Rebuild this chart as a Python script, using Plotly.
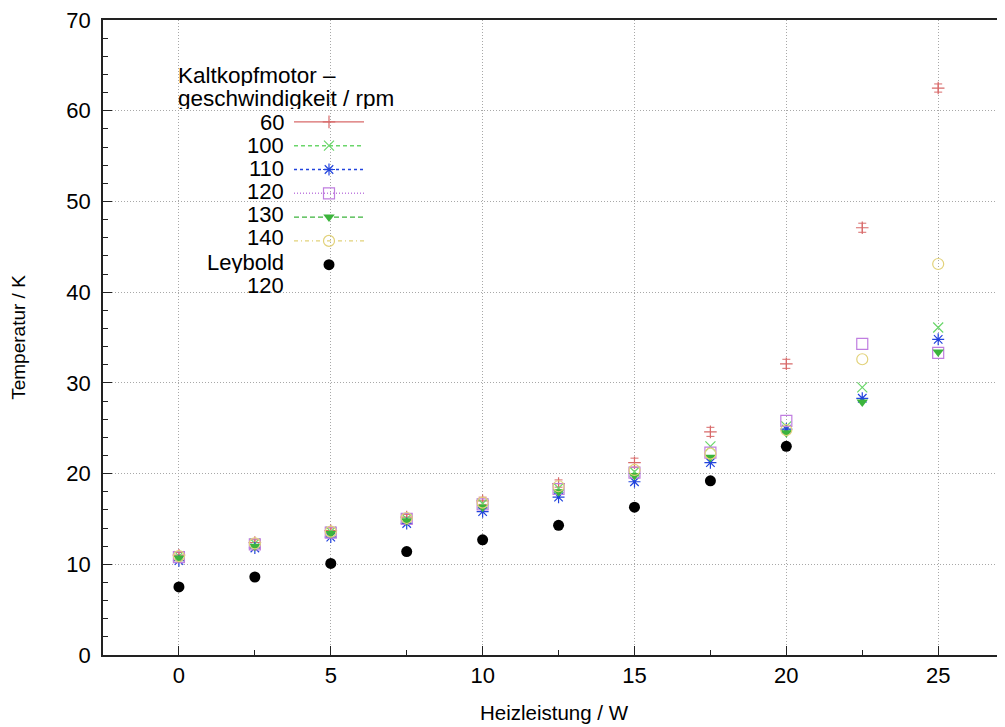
import plotly.graph_objects as go

heizleistung = [0, 2.5, 5, 7.5, 10, 12.5, 15, 17.5, 20, 22.5, 25]
rpm60 = [11.0, 12.4, 13.7, 15.2, 17.0, 18.9, 21.2, 24.6, 32.1, 47.1, 62.5]
err60 = [0.3, 0.3, 0.3, 0.3, 0.4, 0.4, 0.5, 0.5, 0.5, 0.5, 0.45]
rpm100 = [10.9, 12.3, 13.6, 15.0, 16.7, 18.4, 20.2, 23.0, 25.2, 29.5, 36.1]
rpm110 = [10.4, 11.8, 13.0, 14.5, 15.8, 17.4, 19.1, 21.2, 24.9, 28.3, 34.8]
rpm120 = [10.8, 12.2, 13.5, 15.0, 16.6, 18.3, 20.1, 22.3, 25.8, 34.3, 33.3]
rpm130 = [10.7, 12.0, 13.4, 14.8, 16.3, 18.0, 19.8, 21.8, 24.5, 27.9, 33.4]
rpm140 = [10.9, 12.3, 13.6, 15.1, 16.8, 18.6, 20.4, 22.2, 24.8, 32.6, 43.1]
leybold_x = [0, 2.5, 5, 7.5, 10, 12.5, 15, 17.5, 20]
leybold120 = [7.5, 8.6, 10.1, 11.4, 12.7, 14.3, 16.3, 19.2, 23.0]

legend_title = ["Kaltkopfmotor –", "geschwindigkeit / rpm"]
labels = ["60", "100", "110", "120", "130", "140", "Leybold", "120"]
colors = ["#d86a6a", "#6ad66a", "#2244dd", "#c07ee0", "#3cb43c", "#e2d27a", "#000000"]
symbols = ["cross-thin-open", "x-thin-open", "asterisk-open", "square-open",
           "triangle-down", "circle-open", "circle"]
sizes = [9, 10, 10, 11, 10, 11, 11]
dashes = ["solid", "4px,3px", "3px,3px", "1px,2px", "5px,3px", "4px,3px,1px,3px", None]

series = [rpm60, rpm100, rpm110, rpm120, rpm130, rpm140, leybold120]
xs = [heizleistung] * 6 + [leybold_x]

FONT = "Liberation Sans, Arial, sans-serif"

# plot-area geometry (pixels inside the figure) used to place legend text
L, T, B, H = 95, 12, 72, 719
PLOT_H = H - T - B
W = 997
PLOT_W = W - L


def py(p):  # page pixel -> paper y
    return (655 - p) / PLOT_H


def px(p):  # page pixel -> paper x
    return (p - 103) / PLOT_W


fig = go.Figure()

for i, (xv, yv) in enumerate(zip(xs, series)):
    kw = {}
    if i == 0:
        kw["error_y"] = dict(type="data", array=err60, visible=True,
                             color=colors[0], thickness=1, width=4)
    lw = 1.2 if "open" in symbols[i] else 0
    fig.add_trace(go.Scatter(
        x=xv, y=yv, mode="markers", showlegend=False,
        marker=dict(symbol=symbols[i], size=sizes[i], color=colors[i],
                    line=dict(color=colors[i], width=lw)),
        **kw))

# legend samples (names are written as right-aligned text to their left)
for i in range(7):
    lw = 1.2 if "open" in symbols[i] else 0
    if dashes[i] is None:
        fig.add_trace(go.Scatter(
            x=[None], y=[None], mode="markers", name=" ",
            marker=dict(symbol=symbols[i], size=sizes[i], color=colors[i])))
    else:
        fig.add_trace(go.Scatter(
            x=[None], y=[None], mode="lines+markers", name=" ",
            line=dict(color=colors[i], width=1.4, dash=dashes[i]),
            marker=dict(symbol=symbols[i], size=sizes[i], color=colors[i],
                        line=dict(color=colors[i], width=lw))))

annotations = []
for txt, yy in zip(legend_title, [75, 98]):
    annotations.append(dict(text=txt, xref="paper", yref="paper", x=px(177), y=py(yy),
                            xanchor="left", yanchor="middle", showarrow=False,
                            height=22, valign="middle", borderpad=0,
                            font=dict(family=FONT, size=22.5, color="#000")))
for txt, yy in zip(labels, [122, 145, 168, 191, 214, 237, 262, 285]):
    annotations.append(dict(text=txt, xref="paper", yref="paper", x=px(285), y=py(yy),
                            xanchor="right", yanchor="middle", showarrow=False,
                            height=22, valign="middle", borderpad=0,
                            font=dict(family=FONT, size=22, color="#000")))

axis_common = dict(
    showline=True, linecolor="#222222", linewidth=1.5,
    ticks="inside", ticklen=9, tickwidth=1, tickcolor="#222222",
    showgrid=True, gridcolor="#a8a8a8", griddash="1px,2px", gridwidth=1,
    zeroline=False, ticklabeloverflow="allow",
    tickfont=dict(family=FONT, size=22, color="#000"),
)

fig.update_layout(
    width=W, height=H,
    margin=dict(l=L, r=0, t=T, b=B),
    paper_bgcolor="white", plot_bgcolor="white",
    font=dict(family=FONT, size=20, color="#000"),
    xaxis=dict(range=[-2.5, 27.2], dtick=5, tick0=0, mirror=True,
               title=dict(text="Heizleistung / W", standoff=18,
                          font=dict(family=FONT, size=20.5, color="#000")),
               minor=dict(dtick=2.5, ticks="inside", ticklen=5, tickcolor="#222", showgrid=False),
               **axis_common),
    yaxis=dict(range=[0, 70], dtick=10, tick0=0, mirror=False, ticklabelstandoff=6,
               title=dict(text="Temperatur / K", standoff=42,
                          font=dict(family=FONT, size=19, color="#000")),
               minor=dict(dtick=2, ticks="inside", ticklen=5, tickcolor="#222", showgrid=False),
               **axis_common),
    legend=dict(
        x=px(289), y=py(105), xanchor="left", yanchor="top",
        bgcolor="rgba(0,0,0,0)", borderwidth=0,
        font=dict(size=16, family=FONT),
        tracegroupgap=0, itemwidth=70,
    ),
    annotations=annotations,
)

fig.write_html("out.html")
